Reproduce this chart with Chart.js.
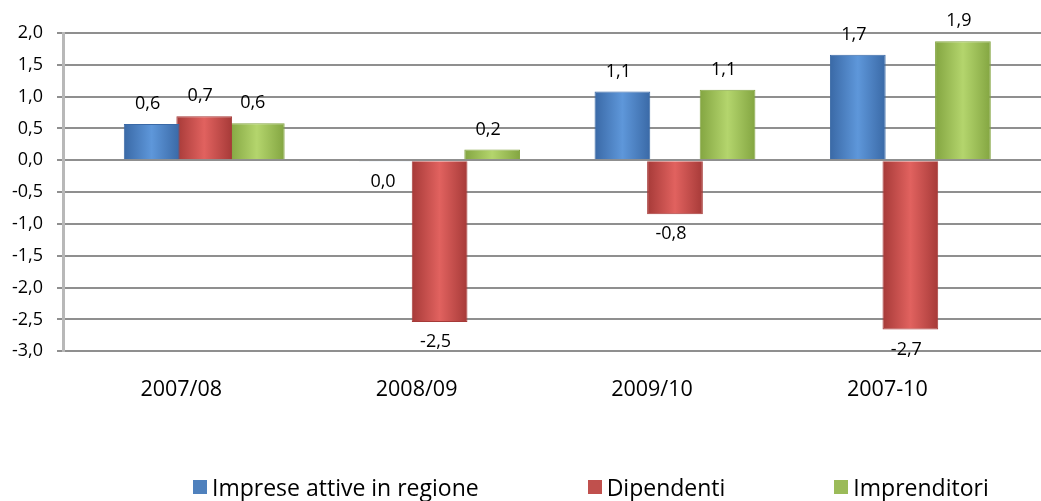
<!DOCTYPE html>
<html>
<head>
<meta charset="utf-8">
<script src="https://cdn.jsdelivr.net/npm/chart.js@4.4.1/dist/chart.umd.min.js"></script>
<style>
  body { margin: 0; background: #fff; }
  #wrap { position: relative; width: 1041px; height: 501px; }
  #legend {
    position: absolute; left: 193px; top: 471px;
    display: flex; gap: 109px;
    font-family: "Open Sans", sans-serif; font-size: 23px; color: #000;
  }
  #legend span.item { display: flex; align-items: center; white-space: nowrap; }
  #legend i { display: inline-block; width: 14px; height: 14px; margin-right: 5px; }
</style>
</head>
<body>
<div id="wrap">
  <canvas id="myChart" width="1041" height="501"></canvas>
  <div id="legend"></div>
</div>
<script>
// categories and series
const categories = ["2007/08", "2008/09", "2009/10", "2007-10"];
const seriesNames = ["Imprese attive in regione", "Dipendenti", "Imprenditori"];
const imprese = [0.57, -0.02, 1.08, 1.66];
const dipendenti = [0.69, -2.54, -0.85, -2.66];
const imprenditori = [0.58, 0.17, 1.11, 1.87];
const yMin = -3;
const yMax = 2;
const yStep = 0.5;

const colors = ["#4F81BD", "#C0504D", "#9BBB59"];
// edge / centre shades for the cylinder-ish look
const shades = [
  ["#3A69A6", "#5E97DA"],
  ["#A63A38", "#E1625F"],
  ["#83A541", "#B4D56D"],
];
const fontFamily = '"Open Sans", sans-serif';

const fmt = (v) => (Math.round(v * 10) / 10).toFixed(1).replace(".", ",");

// legend (html)
const legendEl = document.getElementById("legend");
seriesNames.forEach((name, i) => {
  const item = document.createElement("span");
  item.className = "item";
  item.innerHTML = '<i style="background:' + colors[i] + '"></i>' + name;
  legendEl.appendChild(item);
});

// shade each bar with a horizontal gradient
const barShade = {
  id: "barShade",
  beforeDatasetsDraw(chart) {
    const ctx = chart.ctx;
    chart.data.datasets.forEach((ds, i) => {
      chart.getDatasetMeta(i).data.forEach((bar) => {
        const left = bar.x - bar.width / 2;
        const g = ctx.createLinearGradient(left, 0, left + bar.width, 0);
        g.addColorStop(0, shades[i][0]);
        g.addColorStop(0.5, shades[i][1]);
        g.addColorStop(1, shades[i][0]);
        bar.options = Object.assign({}, bar.options, { backgroundColor: g });
      });
    });
  },
};

// value labels above / below bars
const valueLabels = {
  id: "valueLabels",
  afterDatasetsDraw(chart) {
    const ctx = chart.ctx;
    ctx.save();
    ctx.font = "18px " + fontFamily;
    ctx.fillStyle = "#000";
    ctx.textAlign = "center";
    ctx.textBaseline = "middle";
    chart.data.datasets.forEach((ds, i) => {
      chart.getDatasetMeta(i).data.forEach((bar, j) => {
        const v = ds.data[j].y;
        const y = v >= 0 ? bar.y - 20 : bar.y + 20;
        ctx.fillText(fmt(v), bar.x - 4, y);
      });
    });
    ctx.restore();
  },
};

const toPoints = (arr) => arr.map((v, i) => ({ x: i, y: v }));

const ctx = document.getElementById("myChart");
const chart = new Chart(ctx, {
  type: "bar",
  data: {
    datasets: [imprese, dipendenti, imprenditori].map((vals, i) => ({
      label: seriesNames[i],
      data: toPoints(vals),
      backgroundColor: colors[i],
      borderColor: shades[i][0],
      borderWidth: 1,
      categoryPercentage: 0.67,
      barPercentage: 1.06,
    })),
  },
  options: {
    responsive: false,
    animation: false,
    devicePixelRatio: 1,
    layout: { padding: { top: 33, right: 0, bottom: 72, left: 0 } },
    plugins: {
      legend: { display: false },
      tooltip: { enabled: false },
    },
    scales: {
      x: {
        type: "linear",
        offset: false,
        min: -0.6,
        max: 3.555,
        afterBuildTicks: (s) => {
          s.ticks = categories.map((c, i) => ({ value: i }));
        },
        ticks: {
          callback: (v) => categories[v],
          font: { size: 21.5, family: fontFamily },
          color: "#000",
          padding: 26,
          autoSkip: false,
          maxRotation: 0,
          labelOffset: -23,
        },
        grid: { display: false, drawTicks: false },
        border: { display: false },
      },
      y: {
        min: yMin,
        max: yMax,
        afterFit: (s) => {
          s.width = 63;
        },
        ticks: {
          stepSize: yStep,
          callback: (v) => fmt(v),
          font: { size: 18, family: fontFamily },
          color: "#000",
          padding: 14,
        },
        grid: { color: "#8f8f8f", lineWidth: 2, tickLength: 6 },
        border: { color: "#b8b8b8", width: 3 },
      },
    },
  },
  plugins: [barShade, valueLabels],
});
</script>
</body>
</html>
